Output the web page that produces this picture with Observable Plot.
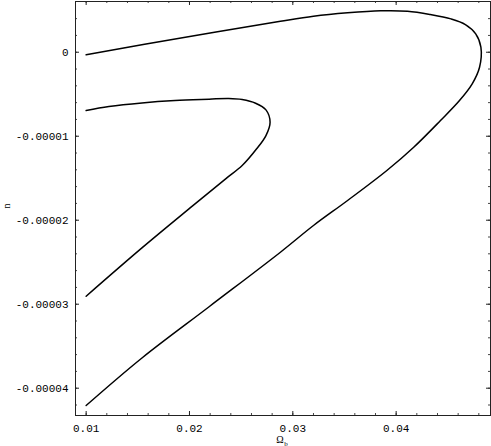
<!DOCTYPE html>
<html><head><meta charset="utf-8">
<script src="https://cdn.jsdelivr.net/npm/d3@7"></script>
<script src="https://cdn.jsdelivr.net/npm/@observablehq/plot@0.6"></script>
<style>body{margin:0;background:#fff}</style>
</head><body><div id="chart"></div>
<script>
const xMajorTicks = [0.01, 0.02, 0.03, 0.04];
const yMajorTicks = [0, -0.00001, -0.00002, -0.00003, -0.00004];
const xMinorTicks = [0.010,0.012,0.014,0.016,0.018,0.020,0.022,0.024,0.026,0.028,0.030,0.032,0.034,0.036,0.038,0.040,0.042,0.044,0.046,0.048];
const yMinorTicks = [0.000004,0.000002,0,-0.000002,-0.000004,-0.000006,-0.000008,-0.00001,-0.000012,-0.000014,-0.000016,-0.000018,-0.00002,-0.000022,-0.000024,-0.000026,-0.000028,-0.00003,-0.000032,-0.000034,-0.000036,-0.000038,-0.00004,-0.000042];

const outerX = [0.0100, 0.0196, 0.0288, 0.0320, 0.0353, 0.0385, 0.0411, 0.0433, 0.0453, 0.0467, 0.0477, 0.0482, 0.04807, 0.04736, 0.04613, 0.04429, 0.0417, 0.0391, 0.0353, 0.0320, 0.0288, 0.0219, 0.0154, 0.0100];
const outerY = [-0.00000030, 0.00000179, 0.00000369, 0.00000429, 0.00000469, 0.00000493, 0.00000488, 0.00000449, 0.00000397, 0.00000330, 0.00000219, 0.00000060, -0.00000179, -0.00000376, -0.00000575, -0.00000813, -0.00001131, -0.00001408, -0.00001765, -0.00002063, -0.00002381, -0.00003030, -0.00003640, -0.00004206];

const innerX = [0.0100, 0.0122, 0.0154, 0.0186, 0.0219, 0.0238, 0.0251, 0.0264, 0.0274, 0.0278, 0.0274, 0.0265, 0.0251, 0.0235, 0.0203, 0.0154, 0.0100];
const innerY = [-0.00000694, -0.00000646, -0.00000603, -0.00000575, -0.00000559, -0.00000551, -0.00000563, -0.00000607, -0.00000686, -0.00000833, -0.00000992, -0.00001150, -0.00001349, -0.00001507, -0.00001830, -0.00002330, -0.00002905];

const curves = [
  ...outerX.map((x, i) => ({curve: "outer", x, y: outerY[i]})),
  ...innerX.map((x, i) => ({curve: "inner", x, y: innerY[i]}))
];

const W = 491, H = 446, mL = 75, mR = 1, mT = 1, mB = 31;
const fw = W - mL - mR, fh = H - mT - mB;

const chart = Plot.plot({
  width: W, height: H,
  marginLeft: mL, marginRight: mR, marginTop: mT, marginBottom: mB,
  x: {domain: [0.00897, 0.04913]},
  y: {domain: [-0.00004325, 0.00000604]},
  style: {fontFamily: "'Liberation Mono', monospace", fontSize: "11px", background: "white", color: "#000"},
  marks: [
    Plot.tickX(xMinorTicks, {x: d => d, insetTop: fh - 2, stroke: "#444"}),
    Plot.tickX(xMinorTicks, {x: d => d, insetBottom: fh - 2, stroke: "#444"}),
    Plot.tickX(xMajorTicks, {x: d => d, insetTop: fh - 4, stroke: "#222"}),
    Plot.tickX(xMajorTicks, {x: d => d, insetBottom: fh - 4, stroke: "#222"}),
    Plot.tickY(yMinorTicks, {y: d => d, insetRight: fw - 2, stroke: "#444"}),
    Plot.tickY(yMinorTicks, {y: d => d, insetLeft: fw - 2, stroke: "#444"}),
    Plot.tickY(yMajorTicks, {y: d => d, insetRight: fw - 4, stroke: "#222"}),
    Plot.tickY(yMajorTicks, {y: d => d, insetLeft: fw - 4, stroke: "#222"}),
    Plot.axisX(xMajorTicks, {anchor: "bottom", tickSize: 0, tickPadding: 9, label: null, tickFormat: d => d.toFixed(2)}),
    Plot.axisY(yMajorTicks, {anchor: "left", tickSize: 0, tickPadding: 7, label: null, tickFormat: d => d === 0 ? "0" : d.toFixed(5)}),
    Plot.frame({stroke: "#222"}),
    Plot.line(curves, {x: "x", y: "y", z: "curve", stroke: "black", strokeWidth: 1.5, curve: "catmull-rom"}),
    Plot.text(["n"], {frameAnchor: "left", text: d => d, rotate: -90, dx: -69, fontSize: 10, fontFamily: "'Liberation Serif', serif"}),
    Plot.text(["Ω"], {frameAnchor: "bottom", text: d => d, dx: -3, dy: 27, fontSize: 10, fill: "black", fontFamily: "'Liberation Serif', serif"}),
    Plot.text(["b"], {frameAnchor: "bottom", text: d => d, dx: 3, dy: 30, fontSize: 7, fill: "black", fontFamily: "'Liberation Serif', serif"})
  ]
});
document.getElementById("chart").appendChild(chart);
</script>
</body></html>
